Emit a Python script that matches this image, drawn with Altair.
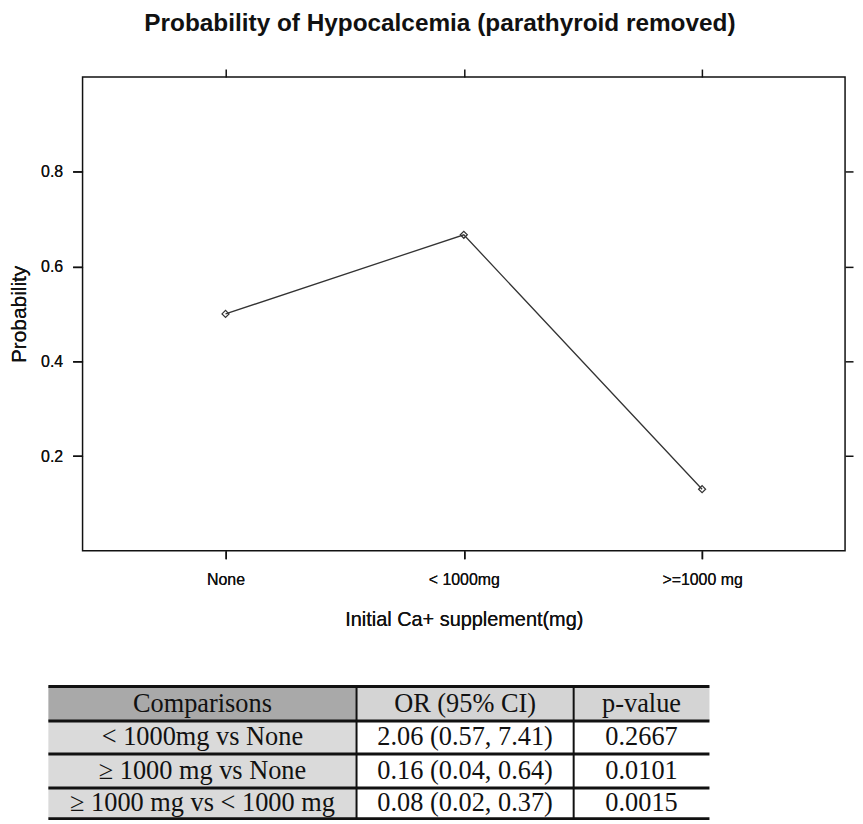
import altair as alt
import pandas as pd

# ---------------- data ----------------
categories = ["None", "< 1000mg", ">=1000 mg"]
probability = [0.50, 0.667, 0.13]
y_ticks = [0.2, 0.4, 0.6, 0.8]

table_header = ["Comparisons", "OR (95% CI)", "p-value"]
comparisons = ["< 1000mg vs None", "≥ 1000 mg vs None", "≥ 1000 mg vs < 1000 mg"]
odds_ratios = ["2.06 (0.57, 7.41)", "0.16 (0.04, 0.64)", "0.08 (0.02, 0.37)"]
p_values = ["0.2667", "0.0101", "0.0015"]

# ---------------- layout / style ----------------
SANS = "Liberation Sans, Arial, Helvetica, sans-serif"
SERIF = "Liberation Serif, Times New Roman, serif"
INK = "#111111"

col_edges = [0, 310, 528.4, 665]
row_edges = [0, 34.7, 68, 102.3, 133]
table_shift = 34.4          # table starts left of the plot area
header_fills = ["#a9a9a9", "#d4d4d4", "#d4d4d4"]
body_fills = ["#dadada", "#ffffff", "#ffffff"]

# ---------------- plot ----------------
plot_df = pd.DataFrame({"supp": categories, "prob": probability})

x_scale = alt.Scale(type="point", domain=categories, padding=0.6)
y_scale = alt.Scale(domain=[0, 1], nice=False, zero=False)

x_bottom = alt.X(
    "supp:N", scale=x_scale, sort=categories,
    axis=alt.Axis(orient="bottom", title="Initial Ca+ supplement(mg)", labelAngle=0,
                  domain=False, ticks=True, tickSize=8, tickWidth=1.5, tickColor=INK,
                  labelPadding=13, labelFont=SANS, labelFontSize=16, labelColor=INK,
                  titleFont=SANS, titleFontSize=20, titleFontWeight="normal",
                  titleColor=INK, titlePadding=22, grid=False),
)
y_left = alt.Y(
    "prob:Q", scale=y_scale,
    axis=alt.Axis(orient="left", values=y_ticks, format=".1f", title="Probability",
                  domain=False, tickSize=10, tickWidth=1.5, tickColor=INK,
                  labelPadding=10, labelFont=SANS, labelFontSize=16, labelColor=INK,
                  titleFont=SANS, titleFontSize=21, titleFontWeight="normal",
                  titleColor=INK, titlePadding=11, grid=False),
)
x_top = alt.X(
    "supp:N", scale=x_scale, sort=categories,
    axis=alt.Axis(orient="top", labels=False, title="", domain=False, tickSize=8,
                  tickWidth=1.5, tickColor=INK, grid=False),
)
y_right = alt.Y(
    "prob:Q", scale=y_scale,
    axis=alt.Axis(orient="right", values=y_ticks, labels=False, title="", domain=False,
                  tickSize=8, tickWidth=1.5, tickColor=INK, grid=False),
)

base = alt.Chart(plot_df)
line = base.mark_line(color="#333333", strokeWidth=1.3).encode(x=x_bottom, y=y_left)
pts = base.mark_point(shape="diamond", filled=False, color="#333333", size=50,
                      strokeWidth=1.2, opacity=1).encode(x=x_bottom, y=y_left)
ghost = base.mark_point(opacity=0).encode(x=x_top, y=y_right)

plot = (
    alt.layer(line, pts, ghost)
    .resolve_axis(x="independent", y="independent")
    .properties(
        width=767, height=476.6,
        title=alt.TitleParams(text="Probability of Hypocalcemia (parathyroid removed)",
                              font=SANS, fontSize=24.5, fontWeight="bold", color=INK,
                              anchor="middle", dx=-24, offset=32),
    )
)

# ---------------- table ----------------
rows = [table_header] + [list(r) for r in zip(comparisons, odds_ratios, p_values)]
cells = []
for r, row in enumerate(rows):
    for c, txt in enumerate(row):
        cells.append({
            "text": txt,
            "x0": col_edges[c], "x1": col_edges[c + 1],
            "y0": row_edges[r], "y1": row_edges[r + 1],
            "xc": (col_edges[c] + col_edges[c + 1]) / 2,
            "yc": (row_edges[r] + row_edges[r + 1]) / 2,
            "fill": header_fills[c] if r == 0 else body_fills[c],
        })
cell_df = pd.DataFrame(cells)
hline_df = pd.DataFrame({"y": row_edges, "xa": col_edges[0], "xb": col_edges[-1]})
vline_df = pd.DataFrame({"x": col_edges[1:-1], "ya": row_edges[0], "yb": row_edges[-1]})

table_w = col_edges[-1] - table_shift
tx = alt.Scale(domain=[table_shift, col_edges[-1]], nice=False, zero=False)
ty = alt.Scale(domain=[0, row_edges[-1]], reverse=True, nice=False, zero=False)

rects = alt.Chart(cell_df).mark_rect().encode(
    x=alt.X("x0:Q", scale=tx, axis=None), x2="x1:Q",
    y=alt.Y("y0:Q", scale=ty, axis=None), y2="y1:Q",
    fill=alt.Fill("fill:N", scale=None),
)
hlines = alt.Chart(hline_df).mark_rule(color=INK, strokeWidth=3).encode(
    x=alt.X("xa:Q", scale=tx, axis=None), x2="xb:Q",
    y=alt.Y("y:Q", scale=ty, axis=None),
)
vlines = alt.Chart(vline_df).mark_rule(color=INK, strokeWidth=2).encode(
    x=alt.X("x:Q", scale=tx, axis=None),
    y=alt.Y("ya:Q", scale=ty, axis=None), y2="yb:Q",
)
texts = alt.Chart(cell_df).mark_text(font=SERIF, fontSize=26.5, color=INK).encode(
    x=alt.X("xc:Q", scale=tx, axis=None),
    y=alt.Y("yc:Q", scale=ty, axis=None),
    text="text:N",
)

table = alt.layer(rects, hlines, vlines, texts).properties(
    width=table_w, height=row_edges[-1], view=alt.ViewBackground(stroke="transparent")
)

chart = (
    alt.vconcat(plot, table, spacing=53)
    .properties(padding=0, background="white")
    .configure_view(stroke=INK, strokeWidth=1.5)
)

chart.save("out.html", embed_options={"renderer": "svg", "actions": False})
